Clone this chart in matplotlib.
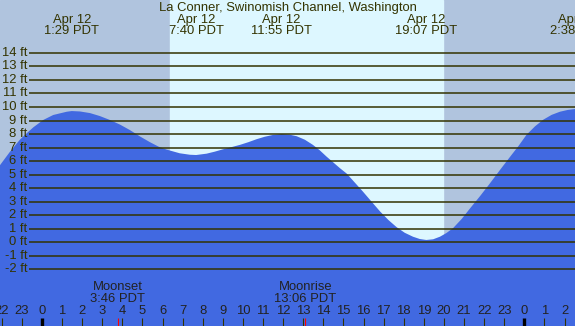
import matplotlib
matplotlib.use('Agg')
import matplotlib.pyplot as plt

plt.rcParams['font.family'] = ['Liberation Sans', 'DejaVu Sans']

# tide height (ft), hours from midnight Apr 12
tide_hours = [-2.09, -1.59, -1.09, -0.76, -0.43, 0.06, 0.56, 1.23, 1.48, 1.89,
              2.39, 2.88, 3.38, 3.88, 4.38, 4.88, 5.37, 5.8, 6.2, 6.37, 6.85,
              7.36, 7.67, 8.19, 8.6, 9.0, 9.42, 9.85, 10.27, 10.68, 11.08,
              11.48, 11.92, 12.3, 12.67, 13.08, 13.48, 13.82, 14.16, 14.83,
              15.16, 15.56, 15.96, 16.4, 16.82, 17.24, 17.65, 18.05, 18.46,
              18.8, 19.12, 19.46, 19.8, 20.12, 20.45, 20.88, 21.3, 21.8,
              22.29, 22.79, 23.28, 23.7, 24.11, 24.53, 24.94, 25.36, 25.77,
              26.15, 26.52]
tide_ft = [5.7, 6.7, 7.6, 8.06, 8.5, 9.04, 9.41, 9.65, 9.7, 9.67,
           9.55, 9.33, 9.04, 8.7, 8.29, 7.82, 7.4, 7.07, 6.85, 6.78, 6.58,
           6.47, 6.45, 6.55, 6.7, 6.87, 7.03, 7.2, 7.4, 7.62, 7.8,
           7.93, 8.0, 7.96, 7.84, 7.58, 7.2, 6.8, 6.33, 5.47,
           5.08, 4.42, 3.76, 3.0, 2.28, 1.64, 1.11, 0.7, 0.41,
           0.24, 0.17, 0.22, 0.41, 0.68, 1.04, 1.72, 2.51, 3.42,
           4.36, 5.35, 6.3, 7.1, 7.95, 8.57, 9.06, 9.42, 9.65,
           9.78, 9.85]

event_hours = [1.48, 7.67, 11.92, 19.12, 26.63]
event_dates = ['Apr 12', 'Apr 12', 'Apr 12', 'Apr 12', 'Apr 13']
event_times = ['1:29 PDT', '7:40 PDT', '11:55 PDT', '19:07 PDT', '2:38 PDT']

moon_hours = [3.77, 13.1]
moon_names = ['Moonset', 'Moonrise']
moon_times = ['3:46 PDT', '13:06 PDT']

sunrise = 6.37
sunset = 19.95
ft_levels = list(range(-2, 15))
hour_ticks = list(range(-2, 27))

title = 'La Conner, Swinomish Channel, Washington'

night = '#b0c4de'
day = '#ddf7ff'
water = '#4169e1'
ink = '#333300'
fs = 9.4

fig = plt.figure(figsize=(5.75, 3.26), dpi=100)
ax = fig.add_axes([0, 0, 1, 1])
x0, x1 = -2.09, 26.52
y0, y1 = -6.19, 17.91
ax.set_xlim(x0, x1)
ax.set_ylim(y0, y1)
ax.axis('off')

ax.axvspan(x0, x1, color=night, zorder=0)
ax.axvspan(sunrise, sunset, color=day, zorder=0)
ax.fill_between(tide_hours, y0, tide_ft, color=water, lw=0, zorder=1)

# ft grid lines with labels
lx = -0.65
ax.hlines(ft_levels, lx, x1, colors=ink, lw=1.1, zorder=2)
for f in ft_levels:
    ax.text(lx - 0.08, f, '%d ft' % f, ha='right', va='center',
            fontsize=fs, color=ink, zorder=3)

def fy(py):
    return 1 - py / 326.0

xt = ax.get_xaxis_transform()
ax.text(0.5, fy(8), title, transform=ax.transAxes, ha='center', va='center',
        fontsize=fs, color=ink)
for h, d, t in zip(event_hours, event_dates, event_times):
    ax.text(h, fy(19.5), d, transform=xt, ha='center', va='center',
            fontsize=fs, color=ink)
    ax.text(h, fy(31), t, transform=xt, ha='center', va='center',
            fontsize=fs, color=ink)

for h, n, t in zip(moon_hours, moon_names, moon_times):
    ax.text(h, fy(287), n, transform=xt, ha='center', va='center',
            fontsize=fs, color='#222222')
    ax.text(h, fy(299), t, transform=xt, ha='center', va='center',
            fontsize=fs, color='#222222')

# hour axis
tb = fy(318)
for h in hour_ticks:
    ax.text(h, fy(311), str(h % 24), transform=xt, ha='center', va='center',
            fontsize=fs, color='#222222')
    mid = h % 24 == 0
    ax.plot([h, h], [0, tb], transform=xt, color='black' if mid else ink,
            lw=2.4 if mid else 0.8, solid_capstyle='butt', zorder=4)
for h in moon_hours:
    ax.plot([h, h], [0, tb], transform=xt, color='red', lw=0.8,
            solid_capstyle='butt', zorder=4)

fig.savefig('out.png', dpi=100)
